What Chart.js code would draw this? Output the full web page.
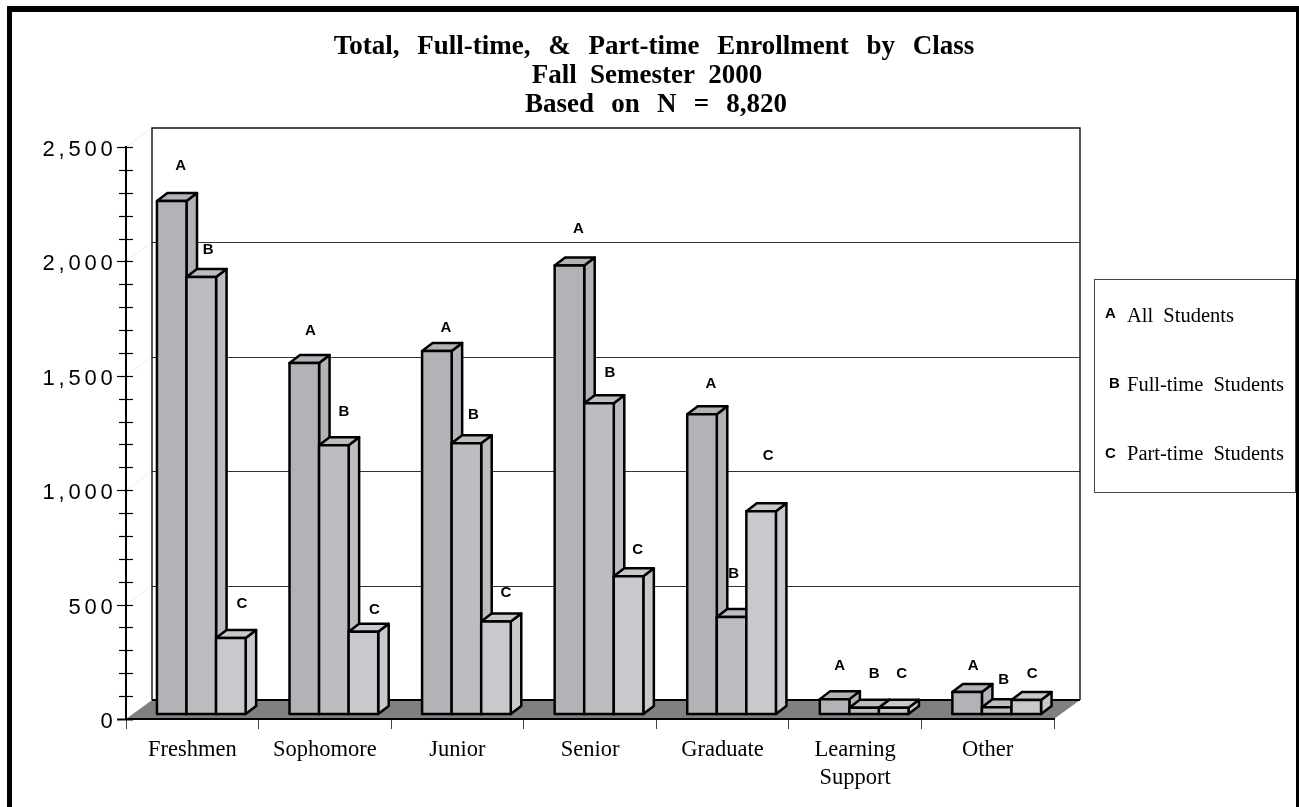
<!DOCTYPE html>
<html>
<head>
<meta charset="utf-8">
<style>html,body{margin:0;padding:0;background:#fff}canvas{display:block}</style>
<script src="https://cdn.jsdelivr.net/npm/chart.js@4/dist/chart.umd.min.js"></script>
</head>
<body>
<div style="width:1299px;height:807px;position:relative"><canvas id="c" width="1299" height="807"></canvas></div>
<script>
const categories = ['Freshmen','Sophomore','Junior','Senior','Graduate',['Learning','Support'],'Other'];
const allStudents = [2242,1534,1587,1960,1310,65,96];
const fullTime = [1910,1175,1183,1358,424,27,30];
const partTime = [332,359,404,602,886,27,61];
const seriesLetters = ['A','B','C'];
const seriesNames = ['All Students','Full-time Students','Part-time Students'];
const titleLines = ['Total, Full-time, & Part-time Enrollment by Class','Fall Semester 2000','Based on N = 8,820'];

/* hand-placed letter nudges relative to each bar's front-top centre */
const letterNudge = [
  [[9,-35],[6,-32],[9,-23],[9,-37],[9,-30],[5,-33],[6,-26]],
  [[7,-27],[10,-33],[7,-28],[11,-30],[2,-43],[10,-34],[7,-27]],
  [[11,-34],[11,-22],[10,-29],[9,-26],[7,-55],[8,-34],[6,-26]]
];
const fills = ['#b2b3b7','#bcbdc1','#c8c9cd'];
const DEPTH = {x:26,y:19};      // back wall offset
const BAR = {x:9,y:5,dx:10.5,dy:8};

function seg(ctx,x1,y1,x2,y2){ctx.beginPath();ctx.moveTo(x1,y1);ctx.lineTo(x2,y2);ctx.stroke();}

const scene = {
  id:'scene',
  beforeDraw(chart){
    const ctx=chart.ctx, y=chart.scales.y, a=chart.chartArea;
    ctx.save();
    ctx.fillStyle='#fff';ctx.fillRect(0,0,1299,807);
    // page border (no bottom edge)
    ctx.fillStyle='#000';
    ctx.fillRect(7,6,1292,6);ctx.fillRect(7,6,5,801);ctx.fillRect(1296,6,3,801);
    // title
    ctx.textAlign='center';ctx.textBaseline='alphabetic';
    ctx.font='bold 27px "Liberation Serif"';
    const tw=['11px','6.5px','10.5px'],tx=[654,647,656];
    [54,83,112].forEach((b,i)=>{ctx.wordSpacing=tw[i];ctx.fillText(titleLines[i],tx[i],b);});
    ctx.wordSpacing='0px';
    // floor
    const L=a.left,R=a.right,B=y.getPixelForValue(0);
    ctx.fillStyle='#808080';
    ctx.beginPath();ctx.moveTo(L,B);ctx.lineTo(L+DEPTH.x,B-DEPTH.y);ctx.lineTo(R+DEPTH.x,B-DEPTH.y);ctx.lineTo(R,B);ctx.closePath();ctx.fill();
    // side wall hints
    ctx.strokeStyle='#eeeeee';ctx.lineWidth=1;
    y.ticks.filter(t=>t.value%500===0&&t.value>0).forEach(t=>{const p=y.getPixelForValue(t.value);seg(ctx,L,p,L+DEPTH.x,p-DEPTH.y);});
    // grid on back wall
    ctx.strokeStyle='#333';ctx.lineWidth=1;
    y.ticks.filter(t=>t.value%500===0&&t.value>0&&t.value<2500).forEach(t=>{
      const p=Math.round(y.getPixelForValue(t.value)-DEPTH.y)+.5;seg(ctx,L+DEPTH.x,p,R+DEPTH.x,p);});
    // wall frame
    ctx.strokeStyle='#111';ctx.lineWidth=1.4;
    const top=y.getPixelForValue(2500)-DEPTH.y,bot=B-DEPTH.y;
    ctx.beginPath();ctx.moveTo(L+DEPTH.x,bot);ctx.lineTo(L+DEPTH.x,top);ctx.lineTo(R+DEPTH.x,top);ctx.lineTo(R+DEPTH.x,bot);ctx.stroke();
    ctx.strokeStyle='#000';ctx.lineWidth=2;seg(ctx,L+DEPTH.x,bot,R+DEPTH.x,bot);
    // legend
    ctx.strokeStyle='#444';ctx.lineWidth=1;ctx.strokeRect(1094.5,279.5,201,213);
    ctx.fillStyle='#000';ctx.textAlign='left';
    const lx=[1105,1109,1105],lb=[318,388,458],tb=[322,391,460];
    seriesNames.forEach((n,i)=>{
      ctx.font='bold 15px "Liberation Sans"';ctx.fillText(seriesLetters[i],lx[i],lb[i]);
      ctx.font='20.5px "Liberation Serif"';ctx.wordSpacing='5px';ctx.fillText(n,1127,tb[i]);ctx.wordSpacing='0px';
    });
    ctx.restore();
  },
  beforeDatasetDraw(){return false;},
  afterDatasetsDraw(chart){
    const ctx=chart.ctx;
    ctx.save();ctx.lineWidth=2.5;ctx.strokeStyle='#000';ctx.lineJoin='round';
    chart.data.datasets.forEach((ds,d)=>{
      chart.getDatasetMeta(d).data.forEach((el,i)=>{
        const p=el.getProps(['x','y','width','base'],true);
        const x0=p.x-p.width/2+BAR.x,x1=p.x+p.width/2+BAR.x,t=p.y-BAR.y,b=p.base-BAR.y,dx=BAR.dx,dy=BAR.dy;
        ctx.fillStyle=fills[d];
        ctx.beginPath();ctx.moveTo(x1,t);ctx.lineTo(x1+dx,t-dy);ctx.lineTo(x1+dx,b-dy);ctx.lineTo(x1,b);ctx.closePath();ctx.fill();ctx.stroke();
        ctx.beginPath();ctx.moveTo(x0,t);ctx.lineTo(x0+dx,t-dy);ctx.lineTo(x1+dx,t-dy);ctx.lineTo(x1,t);ctx.closePath();ctx.fill();ctx.stroke();
        ctx.beginPath();ctx.rect(x0,t,x1-x0,b-t);ctx.fill();ctx.stroke();
      });
    });
    ctx.fillStyle='#000';ctx.font='bold 15px "Liberation Sans"';ctx.textAlign='center';ctx.textBaseline='middle';
    chart.data.datasets.forEach((ds,d)=>{
      chart.getDatasetMeta(d).data.forEach((el,i)=>{
        const n=letterNudge[d][i];
        ctx.fillText(seriesLetters[d],el.x+BAR.x+n[0],el.y-BAR.y+n[1]);
      });
    });
    ctx.restore();
  },
  afterDraw(chart){
    const ctx=chart.ctx,y=chart.scales.y,L=chart.chartArea.left;
    ctx.save();
    ctx.strokeStyle='#000';ctx.lineWidth=1.2;
    y.ticks.forEach(t=>{
      const p=Math.round(y.getPixelForValue(t.value))+.5,maj=t.value%500===0;
      ctx.lineWidth=t.value===0?2:1.2;
      seg(ctx,L-(maj?9:7),p,L+7,p);
    });
    ctx.fillStyle='#000';ctx.font='22px "Liberation Sans"';ctx.letterSpacing='3.8px';ctx.textAlign='right';ctx.textBaseline='alphabetic';
    y.ticks.filter(t=>t.value%500===0).forEach(t=>{
      ctx.fillText(t.value.toLocaleString('en-US'),116.5,y.getPixelForValue(t.value)+9);
    });
    ctx.restore();
  }
};

new Chart(document.getElementById('c'),{
  type:'bar',
  data:{labels:categories,datasets:[
    {label:seriesNames[0],data:allStudents,backgroundColor:fills[0]},
    {label:seriesNames[1],data:fullTime,backgroundColor:fills[1]},
    {label:seriesNames[2],data:partTime,backgroundColor:fills[2]}
  ]},
  plugins:[scene],
  options:{
    responsive:false,animation:false,
    layout:{padding:{left:0,right:245,top:147,bottom:0}},
    plugins:{legend:{display:false},title:{display:false},tooltip:{enabled:false}},
    datasets:{bar:{barPercentage:1,categoryPercentage:0.669}},
    scales:{
      x:{
        afterFit(s){s.height=88;},
        grid:{drawOnChartArea:false,drawTicks:true,tickLength:10,offset:true,color:'#444',lineWidth:1},
        border:{display:true,color:'#000',width:2},
        ticks:{maxRotation:0,autoSkip:false,color:'#000',padding:7,font:{family:'"Liberation Serif"',size:22.5,lineHeight:1.24}}
      },
      y:{
        min:0,max:2500,
        afterFit(s){s.width=126;},
        grid:{display:false},
        border:{display:true,color:'#000',width:2},
        ticks:{display:false,stepSize:100}
      }
    }
  }
});
</script>
</body>
</html>
